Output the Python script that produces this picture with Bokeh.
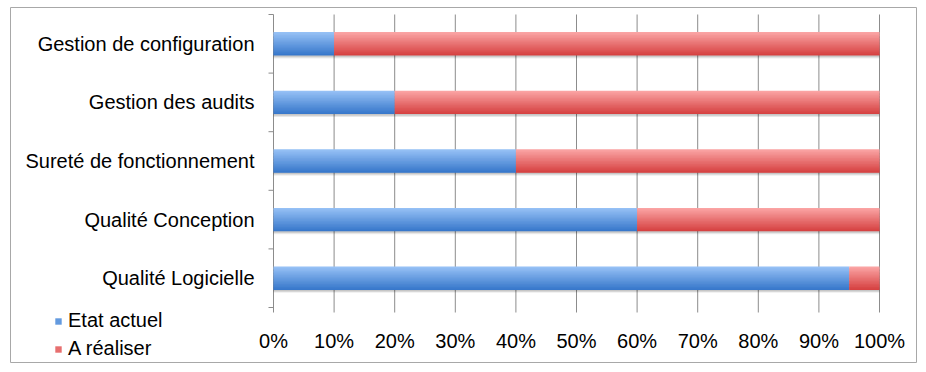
from bokeh.plotting import figure
from bokeh.models import Range1d, Legend, LegendItem
from bokeh.core.properties import value
from bokeh.embed import file_html
from bokeh.resources import INLINE

# ---- data ----
categories = ["Gestion de configuration", "Gestion des audits",
              "Sureté de fonctionnement", "Qualité Conception", "Qualité Logicielle"]
etat_actuel = [10, 20, 40, 60, 95]
a_realiser = [90, 80, 60, 40, 5]
x_ticks = [0, 10, 20, 30, 40, 50, 60, 70, 80, 90, 100]
x_tick_labels = ["0%", "10%", "20%", "30%", "40%", "50%", "60%", "70%", "80%", "90%", "100%"]
series_names = ["Etat actuel", "A réaliser"]

# ---- layout (pixels inside the bordered frame) ----
W, H = 906, 355
PX_LEFT, PX_RIGHT = 263, 869      # x of 0% and 100%
PX_TOP, PX_BOTTOM = 7, 300        # top / bottom of category area
FONT = "Liberation Sans"
FS = "20px"
GRID = "#8c8c8c"

n = len(categories)
xpx = (PX_RIGHT - PX_LEFT) / 100.0
ypx = (PX_BOTTOM - PX_TOP) / n
x0 = -PX_LEFT / xpx
x1 = (W - PX_LEFT) / xpx
y1 = n + PX_TOP / ypx
y0 = -(H - PX_BOTTOM) / ypx

p = figure(frame_width=W, frame_height=H, output_backend="svg", toolbar_location=None,
           x_range=Range1d(x0, x1), y_range=Range1d(y0, y1),
           min_border_left=10, min_border_top=7, min_border_right=8, min_border_bottom=8,
           x_axis_type=None, y_axis_type=None)
p.xgrid.visible = False
p.ygrid.visible = False
p.outline_line_color = "#a8a8a8"
p.outline_line_width = 1
p.background_fill_color = "white"
p.border_fill_color = "white"

centers = [n - i - 0.5 for i in range(n)]
BAR_H = 0.40
TICK = 5 / ypx

# gridlines + x ticks
p.segment(x0=x_ticks, x1=x_ticks, y0=[n] * len(x_ticks), y1=[-TICK] * len(x_ticks),
          line_color=GRID, line_width=1)
# left axis minor ticks at category boundaries
bounds = list(range(n + 1))
p.segment(x0=[0] * len(bounds), x1=[-5 / xpx] * len(bounds), y0=bounds, y1=bounds,
          line_color=GRID, line_width=1)

# category labels
p.text(x=[0] * n, y=centers, text=categories, x_offset=-19, text_align="right",
       text_baseline="middle", text_font=value(FONT), text_font_size=FS, text_color="black")
# x tick labels
p.text(x=x_ticks, y=[0] * len(x_ticks), text=x_tick_labels, y_offset=33, text_align="center",
       text_baseline="middle", text_font=value(FONT), text_font_size=FS, text_color="black")

# stacked values
left1 = [0] * n
right1 = etat_actuel
left2 = etat_actuel
right2 = [a + b for a, b in zip(etat_actuel, a_realiser)]

# soft shadow under bars
for off, alpha in [(0.05, 0.07), (0.035, 0.09), (0.02, 0.08)]:
    p.hbar(y=[c - off for c in centers], left=left1, right=right2, height=BAR_H,
           fill_color="#000000", fill_alpha=alpha, line_color=None)


def lerp(c1, c2, t):
    a = [int(c1[i:i + 2], 16) for i in (1, 3, 5)]
    b = [int(c2[i:i + 2], 16) for i in (1, 3, 5)]
    return "#" + "".join("%02x" % round(a[k] + (b[k] - a[k]) * t) for k in range(3))


SL = 16
blue_top, blue_bot = "#95c0f5", "#3878cb"
red_top, red_bot = "#faa3a3", "#d64242"
legend_renderers = {}
sh = BAR_H / SL
for s in range(SL):
    t = s / (SL - 1)
    # each slice spans from its top edge down to the bar bottom edge (later slices cover)
    top = BAR_H / 2 - s * sh
    hh = sh * 1.6 if s < SL - 1 else sh
    ys = [c + top - hh / 2 for c in centers]
    rb = p.hbar(y=ys, left=left1, right=right1, height=hh,
                fill_color=lerp(blue_top, blue_bot, t), line_color=None)
    rr = p.hbar(y=ys, left=left2, right=right2, height=hh,
                fill_color=lerp(red_top, red_bot, t), line_color=None)
    if s == SL // 2:
        legend_renderers = {"b": rb, "r": rr}

legend = Legend(items=[LegendItem(label=series_names[0], renderers=[legend_renderers["b"]]),
                       LegendItem(label=series_names[1], renderers=[legend_renderers["r"]])],
                location=(44, 2))
legend.background_fill_alpha = 0
legend.border_line_color = None
legend.padding = 0
legend.margin = 0
legend.spacing = 5
legend.glyph_width = 8
legend.glyph_height = 8
legend.label_height = 22
legend.label_standoff = 6
legend.label_text_font = FONT
legend.label_text_font_size = FS
legend.label_text_color = "black"
p.add_layout(legend, "center")

open("out.html", "w").write(file_html(p, INLINE))
